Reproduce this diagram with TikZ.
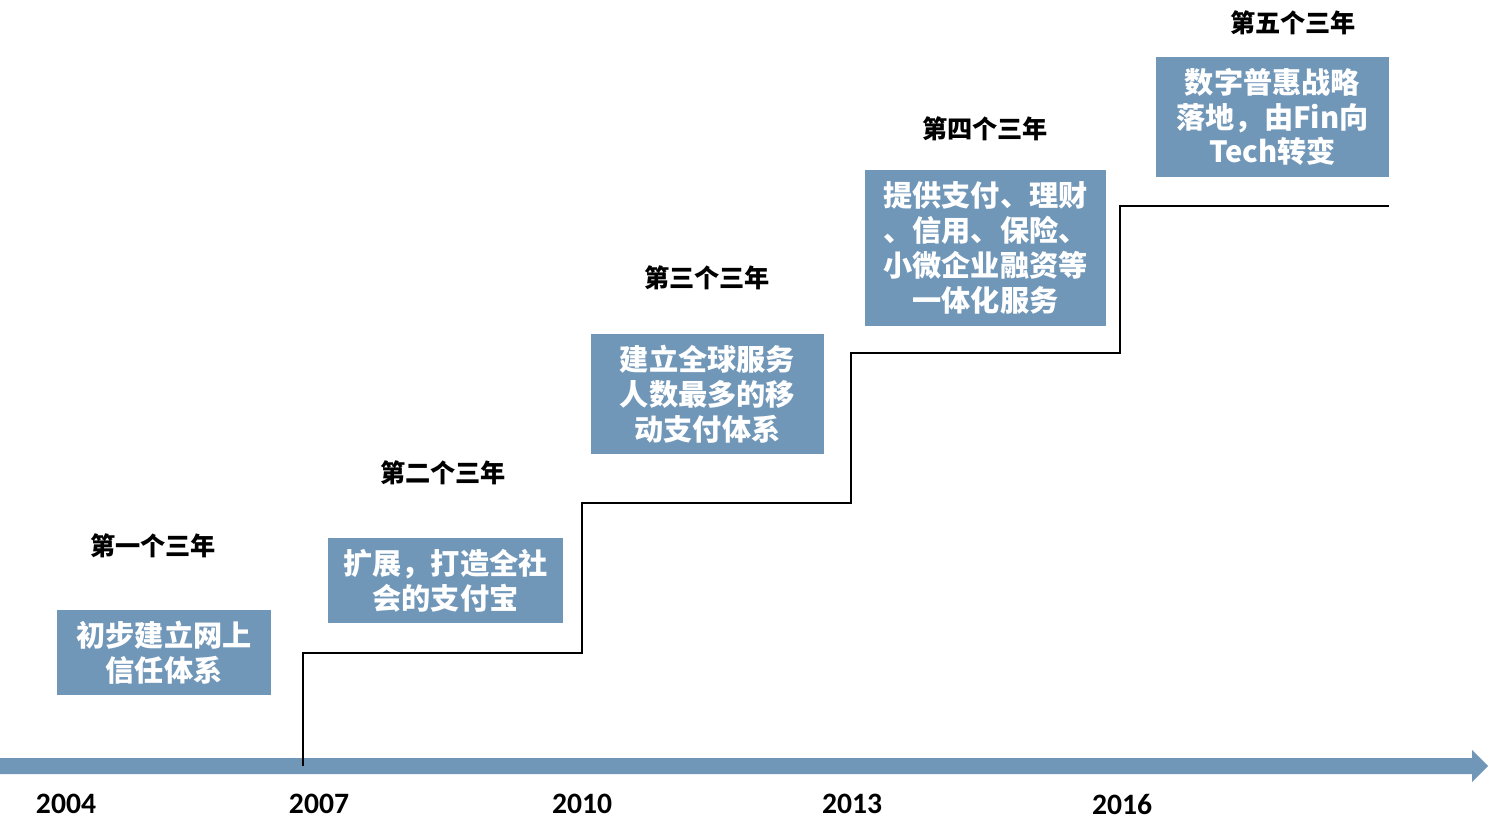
\documentclass[tikz,border=0pt]{standalone}
\usepackage{fontspec}
\newfontfamily\cjk{Noto Sans CJK SC}
\newfontfamily\yearfont{Carlito}
\definecolor{boxblue}{HTML}{7096B8}
\tikzset{
  stagebox/.style={fill=boxblue, draw=none, text=white, align=center, inner sep=0pt,
    font=\cjk\bfseries\fontsize{14.6}{17.4}\selectfont},
  stagelabel/.style={text=black, inner sep=0pt, font=\cjk\bfseries\fontsize{12.6}{14}\selectfont},
  yearlabel/.style={text=black, inner sep=0pt, font=\yearfont\bfseries\fontsize{14.8}{16}\selectfont},
  stepline/.style={draw=black, line width=1pt}
}
\begin{document}
\begin{tikzpicture}[x=0.5pt,y=-0.5pt]
\fill[white] (0,0) rectangle (1494,836);
\useasboundingbox (0,0) rectangle (1494,836);
% axis arrow
\fill[boxblue] (0,758) -- (1472,758) -- (1472,750) -- (1488,766) -- (1472,782) -- (1472,774) -- (0,774) -- cycle;
% step line
\coordinate (s0) at (303,766);
\coordinate (s1) at (303,653);
\coordinate (s2) at (582,653);
\coordinate (s3) at (582,503);
\coordinate (s4) at (851,503);
\coordinate (s5) at (851,353);
\coordinate (s6) at (1120,353);
\coordinate (s7) at (1120,206);
\coordinate (s8) at (1389,206);
\draw[stepline] (s0) -- (s1) -- (s2) -- (s3) -- (s4) -- (s5) -- (s6) -- (s7) -- (s8);
% boxes
\node[stagebox, minimum width=107pt, minimum height=42.5pt] (b1) at (164,652.5) {初步建立网上\\信任体系};
\node[stagebox, minimum width=117.5pt, minimum height=42.5pt] (b2) at (445.5,580.5) {扩展，打造全社\\会的支付宝};
\node[stagebox, minimum width=116.5pt, minimum height=60pt] (b3) at (707.5,394) {建立全球服务\\人数最多的移\\动支付体系};
\node[stagebox, minimum width=120.5pt, minimum height=78pt] (b4) at (985.5,248) {提供支付、理财\\、信用、保险、\\小微企业融资等\\一体化服务};
\node[stagebox, minimum width=116.5pt, minimum height=60pt] (b5) at (1272.5,117) {数字普惠战略\\落地，由Fin向\\Tech转变};
% stage labels
\node[stagelabel] (l1) at (153,546) {第一个三年};
\node[stagelabel] (l2) at (443,473) {第二个三年};
\node[stagelabel] (l3) at (707,278) {第三个三年};
\node[stagelabel] (l4) at (985,129) {第四个三年};
\node[stagelabel] (l5) at (1293,23) {第五个三年};
% years
\node[yearlabel] (y1) at (66,804) {2004};
\node[yearlabel] (y2) at (319,804) {2007};
\node[yearlabel] (y3) at (582,804) {2010};
\node[yearlabel] (y4) at (852,804) {2013};
\node[yearlabel] (y5) at (1122,804) {2016};
\end{tikzpicture}
\end{document}
